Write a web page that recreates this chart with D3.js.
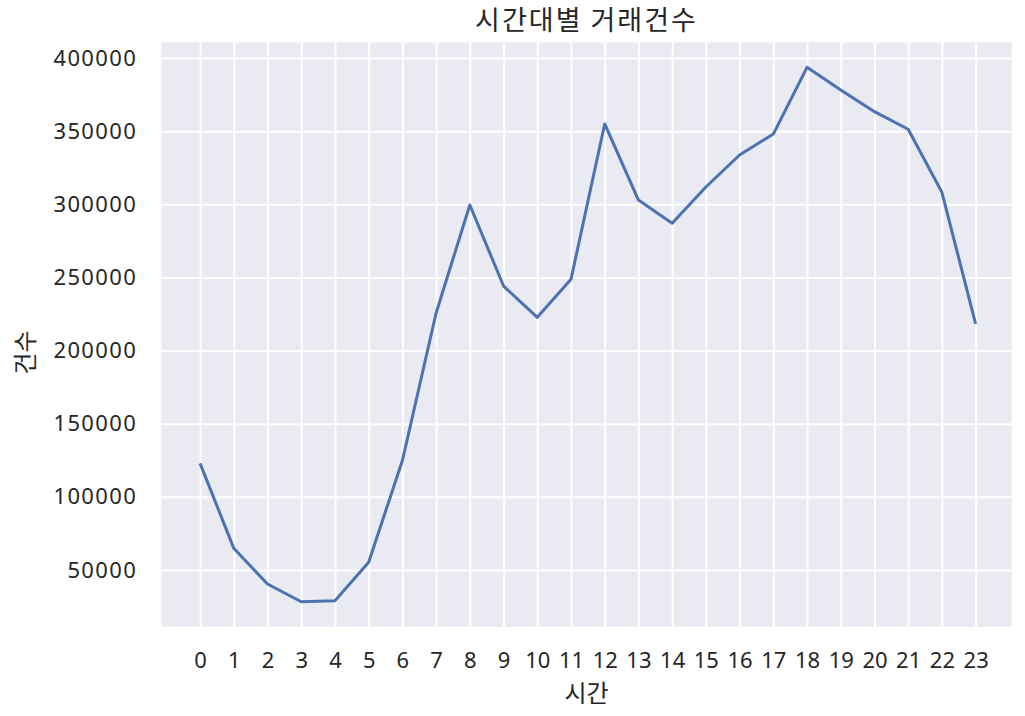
<!DOCTYPE html>
<html>
<head>
<meta charset="utf-8">
<script src="https://cdn.jsdelivr.net/npm/d3@7"></script>
<style>
  html, body { margin: 0; padding: 0; background: #fff; }
  svg text { fill: #262626; }
</style>
</head>
<body>
<svg id="chart" width="1025" height="716"></svg>
<script>
const hours = [0,1,2,3,4,5,6,7,8,9,10,11,12,13,14,15,16,17,18,19,20,21,22,23];
const counts = [122900,64800,40400,28300,29000,55250,124800,225700,299500,244100,222700,248700,354900,302900,287000,311800,333700,348000,393600,378100,363300,351300,308200,218200];
const yTicks = [50000,100000,150000,200000,250000,300000,350000,400000];
const title = "시간대별 거래건수";
const xLabel = "시간";
const yLabel = "건수";

(function () {
const svg = d3.select("#chart");
const pLeft = 161.3, pRight = 1011.7, pTop = 42.3, pBottom = 626.7;

const x = d3.scaleLinear().domain([-1.15, 24.07]).range([pLeft, pRight]);
const y = d3.scaleLinear().domain([11225, 410730]).range([pBottom, pTop]);

svg.append("rect").attr("x", pLeft).attr("y", pTop)
  .attr("width", pRight - pLeft).attr("height", pBottom - pTop).attr("fill", "#EAEAF2");

const xAxis = d3.axisBottom(x).tickValues(hours).tickFormat(d3.format("d"))
  .tickSize(-(pBottom - pTop));
const gx = svg.append("g").attr("transform", `translate(0,${pBottom})`).call(xAxis);
gx.select(".domain").remove();
gx.selectAll(".tick line").attr("stroke", "#fff").attr("stroke-width", 2);
gx.selectAll(".tick text").attr("font-family", "'Noto Sans', sans-serif")
  .attr("font-size", 22).attr("fill", "#262626").attr("dy", "0.35em").attr("y", 34);

const yAxis = d3.axisLeft(y).tickValues(yTicks).tickFormat(d3.format("d"))
  .tickSize(-(pRight - pLeft));
const gy = svg.append("g").attr("transform", `translate(${pLeft},0)`).call(yAxis);
gy.select(".domain").remove();
gy.selectAll(".tick line").attr("stroke", "#fff").attr("stroke-width", 2);
gy.selectAll(".tick text").attr("font-family", "'Noto Sans', sans-serif")
  .attr("font-size", 22).attr("fill", "#262626").attr("x", -24).attr("letter-spacing", 1.4);

const line = d3.line().x((d, i) => x(hours[i])).y(d => y(d));
svg.append("path").datum(counts).attr("d", line)
  .attr("fill", "none").attr("stroke", "#4C72B0").attr("stroke-width", 3)
  .attr("stroke-linejoin", "round").attr("stroke-linecap", "butt");

svg.append("text").attr("x", (pLeft + pRight) / 2).attr("y", 30)
  .attr("text-anchor", "middle").attr("font-family", "'Noto Sans CJK KR', sans-serif")
  .attr("font-size", 27).attr("letter-spacing", 2).text(title);

svg.append("text").attr("x", (pLeft + pRight) / 2).attr("y", 702)
  .attr("text-anchor", "middle").attr("font-family", "'Noto Sans CJK KR', sans-serif")
  .attr("font-size", 24).text(xLabel);

svg.append("text").attr("transform", `translate(34,${(pTop + pBottom) / 2 + 18}) rotate(-90)`)
  .attr("text-anchor", "middle").attr("font-family", "'Noto Sans CJK KR', sans-serif")
  .attr("font-size", 24).text(yLabel);
})();
</script>
</body>
</html>
